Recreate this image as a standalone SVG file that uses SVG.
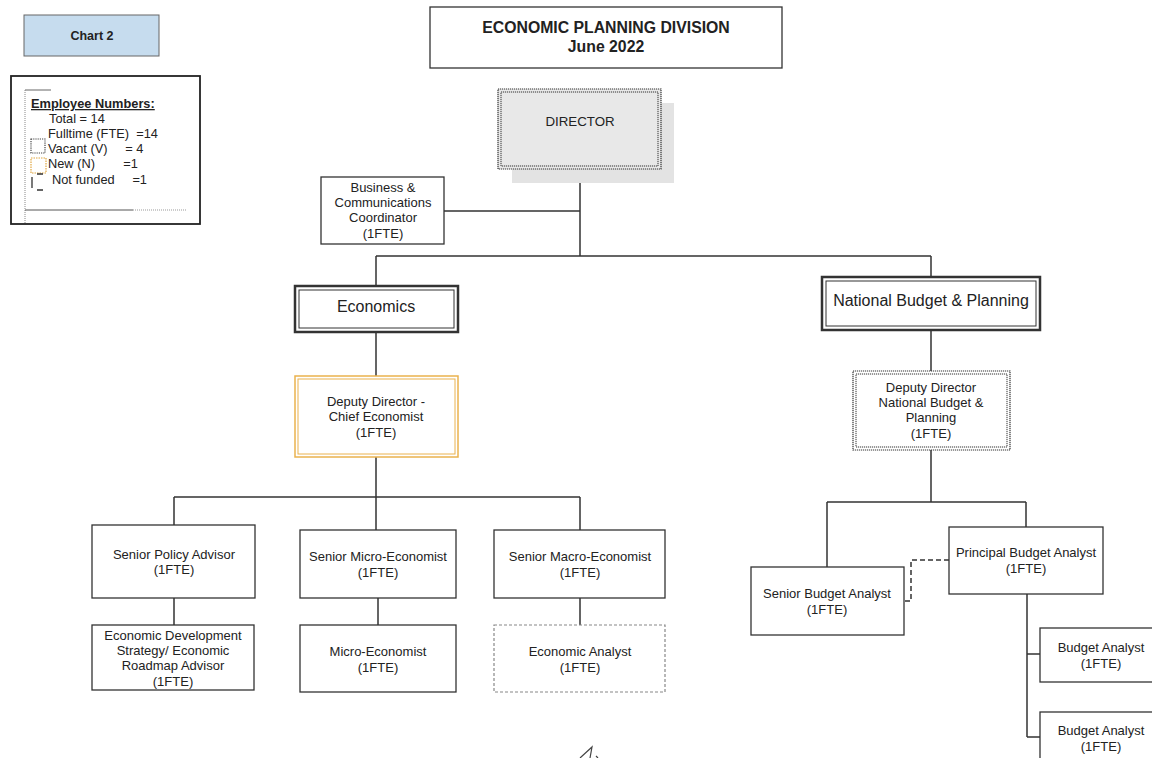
<svg xmlns="http://www.w3.org/2000/svg" width="1152" height="758" viewBox="0 0 1152 758">
<style>
text{font-family:"Liberation Sans",Arial,sans-serif;fill:#222;}
.t{font-size:13px;text-anchor:middle;}
.lg{font-size:12.8px;}
.big{font-size:16px;text-anchor:middle;}
.ttl{font-size:15.8px;font-weight:bold;text-anchor:middle;}
.box{fill:#fff;stroke:#333;stroke-width:1.3;}
.ln{fill:none;stroke:#333;stroke-width:1.5;}
.dot{fill:none;stroke:#444;stroke-width:1.2;stroke-dasharray:1.2 1;}
</style>
<rect width="1152" height="758" fill="#fff"/>
<g id="chart2">
<rect x="24" y="15" width="135" height="41" fill="#c6dcee" stroke="#666" stroke-width="1"/>
<text x="92" y="40" class="t" style="font-size:12.5px;font-weight:bold">Chart 2</text>
</g>
<g id="legend">
<rect x="11" y="76" width="189" height="148" fill="#fff" stroke="#222" stroke-width="1.8"/>
<path d="M25 90 H51" fill="none" stroke="#666" stroke-width="1"/>
<path d="M25 90 V224" fill="none" stroke="#888" stroke-width="1" stroke-dasharray="1 1"/>
<path d="M25 210 H133" stroke="#555" stroke-width="1"/>
<path d="M133 210 H187" stroke="#999" stroke-width="1" stroke-dasharray="1 1"/>
<text x="31" y="108" class="lg" font-weight="bold" text-decoration="underline">Employee Numbers:</text>
<text x="49" y="123" class="lg">Total = 14</text>
<text x="48" y="138" class="lg" xml:space="preserve">Fulltime (FTE)  =14</text>
<text x="48" y="153" class="lg" xml:space="preserve">Vacant (V)     = 4</text>
<text x="48" y="168" class="lg" xml:space="preserve">New (N)        =1</text>
<text x="52" y="184" class="lg" xml:space="preserve">Not funded     =1</text>
<rect x="31" y="139" width="14" height="14" class="dot" stroke="#333"/>
<rect x="31" y="158" width="15" height="15" fill="none" stroke="#e0a640" stroke-width="1.2" stroke-dasharray="1.5 1"/>
<path d="M32 177 V188 M37 174 H43 M37 190 H43" fill="none" stroke="#333" stroke-width="1.3"/>
</g>
<g id="title">
<rect x="430" y="7" width="352" height="61" class="box" stroke="#555"/>
<text x="606" y="33" class="ttl">ECONOMIC PLANNING DIVISION</text>
<text x="606" y="52" class="ttl">June 2022</text>
</g>
<g id="connectors">
<path class="ln" d="M580 169 V256 M444 211 H580 M376 256 H931 M376 256 V286 M931 256 V277"/>
<path class="ln" d="M376 332 V376 M376 457 V497 M174 497 H580 M174 497 V525 M376 497 V530 M580 497 V530"/>
<path class="ln" d="M174 598 V625 M378 598 V625 M580 598 V625"/>
<path class="ln" d="M931 330 V371 M931 450 V502 M827 502 H1026 M827 502 V567 M1026 502 V527"/>
<path class="ln" d="M1027 594 V737 M1027 654 H1040 M1027 737 H1040"/>
<path d="M949 560 H911 V601 H904" fill="none" stroke="#333" stroke-width="1.5" stroke-dasharray="5 3"/>
</g>
<g id="director">
<rect x="512" y="103" width="162" height="80" fill="#e3e3e3"/>
<rect x="498" y="89" width="163" height="80" fill="#e8e8e8" stroke="#333" stroke-width="1.2" stroke-dasharray="1.2 0.8"/>
<rect x="501" y="92" width="157" height="74" fill="none" stroke="#333" stroke-width="1" stroke-dasharray="1.2 0.8"/>
<text x="580" y="126" class="t" style="font-size:13.3px">DIRECTOR</text>
</g>
<g id="business">
<rect x="321" y="177" width="123" height="67" class="box"/>
<text class="t"><tspan x="383" y="192">Business &amp;</tspan><tspan x="383" y="207">Communications</tspan><tspan x="383" y="222">Coordinator</tspan><tspan x="383" y="238">(1FTE)</tspan></text>
</g>
<g id="economics">
<rect x="295" y="286" width="163" height="46" fill="#fff" stroke="#333" stroke-width="2.5"/>
<rect x="299" y="290" width="155" height="38" fill="none" stroke="#333" stroke-width="1"/>
<text x="376" y="312" class="big">Economics</text>
</g>
<g id="nbp">
<rect x="822" y="277" width="218" height="53" fill="#fff" stroke="#333" stroke-width="2.5"/>
<rect x="826" y="281" width="210" height="45" fill="none" stroke="#333" stroke-width="1"/>
<text x="931" y="306" class="big">National Budget &amp; Planning</text>
</g>
<g id="deputy-econ">
<rect x="295" y="376" width="163" height="81" fill="#fff" stroke="#eab24e" stroke-width="1.5"/>
<rect x="298" y="379" width="157" height="75" fill="none" stroke="#eab24e" stroke-width="1"/>
<text class="t"><tspan x="376" y="406">Deputy Director -</tspan><tspan x="376" y="421">Chief Economist</tspan><tspan x="376" y="437">(1FTE)</tspan></text>
</g>
<g id="deputy-nbp">
<rect x="853" y="371" width="157" height="79" fill="#fff" stroke="#333" stroke-width="1.2" stroke-dasharray="1.2 0.8"/>
<rect x="856" y="374" width="151" height="73" fill="none" stroke="#333" stroke-width="1" stroke-dasharray="1.2 0.8"/>
<text class="t"><tspan x="931" y="392">Deputy Director</tspan><tspan x="931" y="407">National Budget &amp;</tspan><tspan x="931" y="422">Planning</tspan><tspan x="931" y="438">(1FTE)</tspan></text>
</g>
<g id="senior-policy">
<rect x="92" y="525" width="163" height="73" class="box"/>
<text class="t"><tspan x="174" y="559">Senior Policy Advisor</tspan><tspan x="174" y="574">(1FTE)</tspan></text>
</g>
<g id="senior-micro">
<rect x="300" y="530" width="156" height="68" class="box"/>
<text class="t"><tspan x="378" y="561">Senior Micro-Economist</tspan><tspan x="378" y="577">(1FTE)</tspan></text>
</g>
<g id="senior-macro">
<rect x="494" y="530" width="171" height="68" class="box"/>
<text class="t"><tspan x="580" y="561">Senior Macro-Economist</tspan><tspan x="580" y="577">(1FTE)</tspan></text>
</g>
<g id="econ-dev">
<rect x="92" y="625" width="162" height="65" class="box" stroke="#666"/>
<text class="t"><tspan x="173" y="640">Economic Development</tspan><tspan x="173" y="655">Strategy/ Economic</tspan><tspan x="173" y="670">Roadmap Advisor</tspan><tspan x="173" y="686">(1FTE)</tspan></text>
</g>
<g id="micro">
<rect x="300" y="625" width="156" height="67" class="box"/>
<text class="t"><tspan x="378" y="656">Micro-Economist</tspan><tspan x="378" y="672">(1FTE)</tspan></text>
</g>
<g id="econ-analyst">
<rect x="494" y="625" width="171" height="67" fill="#fff" stroke="#888" stroke-width="1.2" stroke-dasharray="3 2"/>
<text class="t"><tspan x="580" y="656">Economic Analyst</tspan><tspan x="580" y="672">(1FTE)</tspan></text>
</g>
<g id="principal">
<rect x="949" y="527" width="154" height="67" class="box"/>
<text class="t"><tspan x="1026" y="557">Principal Budget Analyst</tspan><tspan x="1026" y="573">(1FTE)</tspan></text>
</g>
<g id="senior-budget">
<rect x="751" y="567" width="153" height="68" class="box" stroke="#666"/>
<text class="t"><tspan x="827" y="598">Senior Budget Analyst</tspan><tspan x="827" y="614">(1FTE)</tspan></text>
</g>
<g id="budget1">
<rect x="1040" y="628" width="120" height="54" class="box" stroke-width="1.6"/>
<text class="t"><tspan x="1101" y="652">Budget Analyst</tspan><tspan x="1101" y="668">(1FTE)</tspan></text>
</g>
<g id="budget2">
<rect x="1040" y="712" width="120" height="54" class="box" stroke="#666"/>
<text class="t"><tspan x="1101" y="735">Budget Analyst</tspan><tspan x="1101" y="751">(1FTE)</tspan></text>
</g>
<path d="M580 758 L592 747 L590 758 M596 756 L598 758" fill="none" stroke="#444" stroke-width="1.2"/>
</svg>
